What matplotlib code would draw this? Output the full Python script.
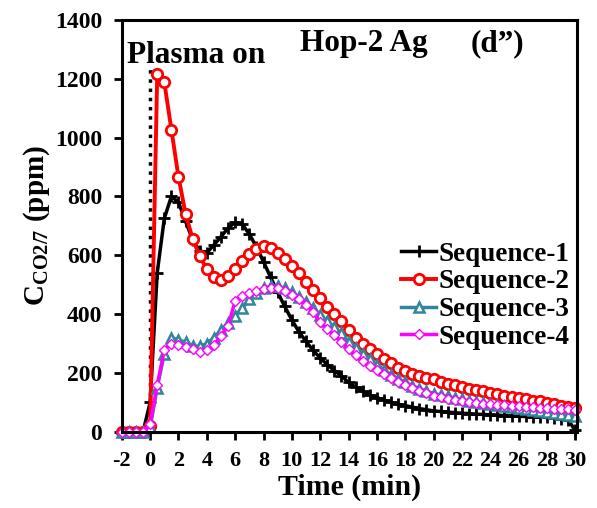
import numpy as np
import matplotlib
matplotlib.use("Agg")
import matplotlib.pyplot as plt

plt.rcParams['font.family'] = ['Liberation Serif', 'DejaVu Serif']
plt.rcParams['font.weight'] = 'bold'
plt.rcParams['axes.unicode_minus'] = False
plt.rcParams['mathtext.fontset'] = 'custom'
plt.rcParams['mathtext.rm'] = 'Liberation Serif:bold'
plt.rcParams['mathtext.bf'] = 'Liberation Serif:bold'

# time axis, one sample every 0.5 min
time_min = np.arange(-2, 30.01, 0.5)

seq1 = [0, 0, 0, 0, 100, 540, 725, 800, 780, 715, 652, 615, 608, 635, 663, 692,
        712, 705, 672, 628, 578, 525, 474, 426, 380, 340, 307, 277, 251, 228, 208,
        190, 168, 152, 138, 125, 116, 108, 100, 94, 89, 84, 79, 75, 71, 69, 67, 65,
        63, 62, 60, 59, 58, 57, 55, 54, 53, 52, 51, 50, 49, 47, 45, 40, 5]

seq2 = [0, 0, 0, 0, 20, 1215, 1188, 1027, 866, 741, 656, 596, 553, 526, 516, 528,
        552, 580, 605, 622, 630, 624, 608, 588, 565, 538, 510, 483, 454, 425, 400,
        375, 345, 320, 300, 280, 265, 248, 233, 218, 207, 198, 190, 182, 178, 170,
        164, 158, 152, 147, 142, 137, 132, 127, 122, 118, 114, 110, 106, 103, 99,
        94, 89, 84, 80]

seq3 = [0, 0, 0, 0, 15, 150, 265, 320, 312, 305, 292, 290, 300, 320, 345, 370,
        395, 420, 450, 470, 488, 495, 495, 488, 475, 458, 440, 420, 398, 375, 355,
        335, 305, 285, 265, 246, 228, 210, 194, 180, 168, 157, 147, 138, 130, 125,
        120, 115, 110, 106, 102, 98, 94, 91, 88, 84, 81, 78, 75, 71, 68, 64, 60,
        56, 52]

seq4 = [0, 0, 0, 0, 25, 160, 278, 300, 296, 288, 280, 272, 278, 295, 325, 360,
        445, 462, 472, 480, 486, 490, 488, 480, 466, 450, 430, 408, 372, 350, 328,
        305, 282, 260, 240, 225, 210, 196, 182, 170, 160, 150, 140, 132, 122, 117,
        112, 108, 104, 100, 97, 95, 93, 91, 90, 88, 86, 85, 83, 82, 80, 79, 77,
        76, 75]

labels = ['Sequence-1', 'Sequence-2', 'Sequence-3', 'Sequence-4']

fig = plt.figure(figsize=(5.97, 5.08), dpi=100)
ax = fig.add_axes([0.204, 0.150, 0.762, 0.811])

# plasma switched on at t = 0
ax.plot([0, 0], [0, 1235], color='black', linestyle=':', linewidth=2.5)

ax.plot(time_min, seq1, color='black', linewidth=2.5, marker='+',
        markersize=9, markeredgewidth=2, label=labels[0], clip_on=False)
ax.plot(time_min, seq2, color='red', linewidth=2.8, marker='o',
        markersize=7.5, markerfacecolor='white', markeredgewidth=2,
        label=labels[1], clip_on=False)
ax.plot(time_min, seq3, color='#31859C', linewidth=2.5, marker='^',
        markersize=7, markerfacecolor='white', markeredgewidth=1.8,
        label=labels[2], clip_on=False)
ax.plot(time_min, seq4, color='#FF00FF', linewidth=2.5, marker='D',
        markersize=5, markerfacecolor='white', markeredgewidth=1.0,
        label=labels[3], clip_on=False)

ax.set_xlim(-2, 30.1)
ax.set_ylim(0, 1400)
ax.set_xticks(np.arange(-2, 31, 2))
ax.set_yticks(np.arange(0, 1401, 200))
ax.tick_params(direction='out', length=6, width=2, pad=8)
ax.tick_params(axis='x', labelsize=16)
ax.tick_params(axis='y', labelsize=17)
for lab in ax.get_xticklabels() + ax.get_yticklabels():
    lab.set_fontweight('bold')
for sp in ax.spines.values():
    sp.set_linewidth(2.2)

ax.set_xlabel('Time (min)', fontsize=21.5, fontweight='bold', labelpad=2)
ax.set_ylabel(r'C$_{\mathregular{CO2/7}}$ (ppm)', fontsize=21,
              fontweight='bold', labelpad=2)

ax.text(-1.65, 1280, 'Plasma on', fontsize=22.5, fontweight='bold', va='center')
ax.text(10.6, 1318, 'Hop-2 Ag', fontsize=22.5, fontweight='bold', va='center')
ax.text(22.6, 1318, '(d\u201d)', fontsize=22.5, fontweight='bold', va='center')

leg = ax.legend(loc='center right', bbox_to_anchor=(0.985, 0.33), frameon=False,
                fontsize=19.5, handlelength=1.3, handletextpad=0.1,
                labelspacing=0.1, borderpad=0, borderaxespad=0)
for t in leg.get_texts():
    t.set_fontweight('bold')

fig.savefig('out.png', dpi=100)
